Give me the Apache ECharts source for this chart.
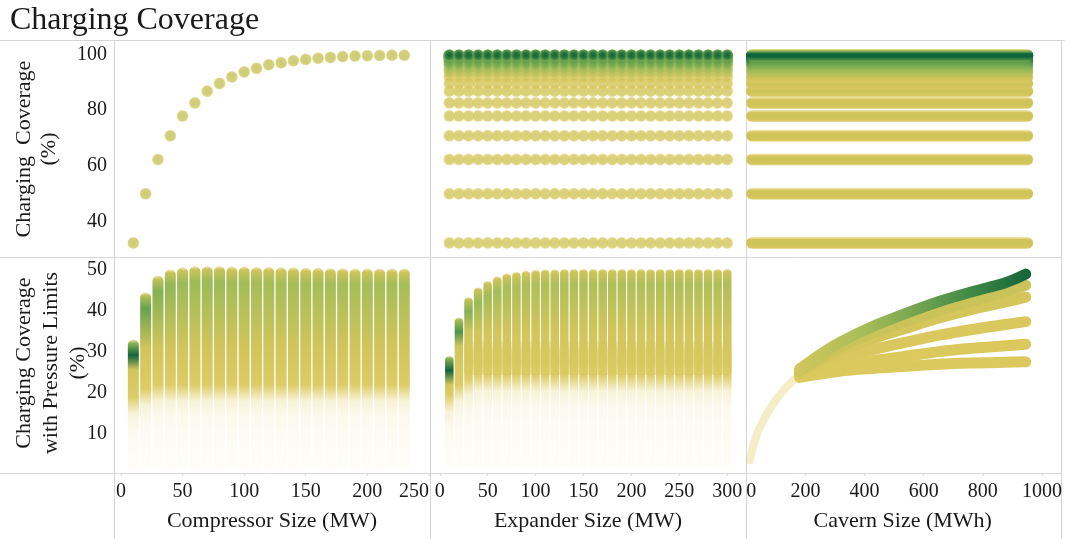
<!DOCTYPE html>
<html>
<head>
<meta charset="utf-8">
<script src="https://cdn.jsdelivr.net/npm/echarts@6/dist/echarts.min.js"></script>
<style>
html, body { margin: 0; padding: 0; background: #fff; }
#main { width: 1065px; height: 539px; }
</style>
</head>
<body>
<div id="main"></div>
<script>
// ---- data ----
// top row: charging coverage (%) for each compressor size (MW)
var compressorSizes = [10, 20, 30, 40, 50, 60, 70, 80, 90, 100, 110, 120, 130, 140, 150, 160, 170, 180, 190, 200, 210, 220, 230];
var coverage = [32.4, 50.0, 62.3, 70.8, 77.9, 82.6, 86.8, 89.6, 91.9, 93.7, 95.0, 96.3, 97.0, 97.7, 98.2, 98.6, 98.9, 99.2, 99.4, 99.5, 99.6, 99.7, 99.7];
var expanderSizes = [10, 20, 30, 40, 50, 60, 70, 80, 90, 100, 110, 120, 130, 140, 150, 160, 170, 180, 190, 200, 210, 220, 230, 240, 250, 260, 270, 280, 290, 300];
var cavernRange = [20, 945];

// bottom row: coverage with pressure limits, highest value / lowest dense value / peak density per column
var compTop = [31.7, 43.2, 47.3, 48.8, 49.3, 49.6, 49.6, 49.6, 49.5, 49.5, 49.4, 49.4, 49.3, 49.3, 49.2, 49.2, 49.1, 49.1, 49.0, 49.0, 49.0, 49.0, 49.0];
var compLow = [19.0, 21.0, 22.0, 22.0, 22.0, 22.0, 22.0, 22.0, 22.0, 22.0, 22.0, 22.0, 22.0, 22.0, 22.0, 22.0, 22.0, 22.0, 22.0, 22.0, 22.0, 22.0, 22.0];
var compPeak = [1.0, 0.72, 0.62, 0.58, 0.55, 0.55, 0.55, 0.55, 0.52, 0.52, 0.5, 0.5, 0.5, 0.5, 0.5, 0.5, 0.5, 0.5, 0.5, 0.5, 0.5, 0.5, 0.5];

var expTop = [28.0, 37.4, 42.3, 44.7, 46.3, 47.4, 48.1, 48.5, 48.8, 49.0, 49.1, 49.1, 49.2, 49.2, 49.2, 49.2, 49.2, 49.2, 49.2, 49.2, 49.2, 49.2, 49.2, 49.2, 49.2, 49.2, 49.2, 49.2, 49.2, 49.2];
var expLow = [19.5, 22.0, 23.5, 24.4, 24.4, 24.4, 24.4, 24.4, 24.4, 24.4, 24.4, 24.4, 24.4, 24.4, 24.4, 24.4, 24.4, 24.4, 24.4, 24.4, 24.4, 24.4, 24.4, 24.4, 24.4, 24.4, 24.4, 24.4, 24.4, 24.4];
var expPeak = [1.0, 0.8, 0.62, 0.56, 0.52, 0.5, 0.48, 0.46, 0.46, 0.45, 0.45, 0.45, 0.45, 0.45, 0.45, 0.45, 0.45, 0.45, 0.45, 0.45, 0.45, 0.45, 0.45, 0.45, 0.45, 0.45, 0.45, 0.45, 0.45, 0.45];
// dense horizontal band in the expander panel: [expander from, expander to, coverage low, coverage high]
var expBand = [30, 300, 24.4, 32.6];

// cavern size (MWh) vs coverage with pressure limits, one list per band
var cavLow = [[12, 3.6], [25, 7.5], [45, 11.5], [85, 16.7], [130, 21.0], [165, 23.5]];
var cavTopCurve = [[180, 25.8], [258, 29.8], [315, 32.3], [427, 36.2], [540, 39.4], [652, 42.3], [764, 44.7], [876, 46.9], [945, 49.0]];
var cavBand1 = [[180, 25.4], [315, 31.2], [427, 34.6], [540, 37.5], [652, 40.2], [764, 42.5], [876, 44.6], [945, 46.3]];
var cavBand2 = [[180, 25.0], [315, 30.2], [427, 33.2], [540, 35.8], [652, 38.3], [764, 40.4], [876, 42.2], [945, 43.4]];
var cavBandB = [[180, 24.6], [315, 28.8], [427, 30.6], [540, 32.4], [652, 34.1], [764, 35.5], [876, 36.7], [945, 37.4]];
var cavBandC = [[180, 24.2], [315, 27.0], [427, 27.9], [540, 29.0], [652, 30.1], [764, 30.9], [876, 31.5], [945, 31.9]];
var cavBandD = [[180, 23.8], [315, 25.3], [427, 26.0], [540, 26.5], [652, 27.0], [764, 27.3], [876, 27.5], [945, 27.6]];

var compTicks = [0, 50, 100, 150, 200, 250];
var expTicks = [0, 50, 100, 150, 200, 250, 300];
var cavTicks = [0, 200, 400, 600, 800, 1000];
var topTicks = [40, 60, 80, 100];
var botTicks = [10, 20, 30, 40, 50];

// ---- colour helpers ----
var rampStops = [[0, [226, 203, 96]], [0.3, [206, 196, 90]], [0.55, [156, 187, 87]], [0.78, [85, 153, 75]], [1, [17, 100, 58]]];
function ramp(t, a) {
	t = Math.max(0, Math.min(1, t));
	for (var i = 1; i < rampStops.length; i++) {
		if (t <= rampStops[i][0]) {
			var s0 = rampStops[i - 1], s1 = rampStops[i];
			var f = (t - s0[0]) / (s1[0] - s0[0]);
			var c = s0[1].map(function(v, k) { return Math.round(v + (s1[1][k] - v) * f); });
			return 'rgba(' + c.join(',') + ',' + (a == null ? 1 : a) + ')';
		}
	}
	return 'rgba(17,100,58,1)';
}
function dot(t) {
	var rim = t > 0.35 ? 0.8 : 0.4;
	return {
		type: 'radial', x: 0.5, y: 0.5, r: 0.5,
		colorStops: [
			{ offset: 0, color: ramp(t) },
			{ offset: 0.5, color: ramp(t * 0.92) },
			{ offset: 0.8, color: ramp(t * rim) },
			{ offset: 1, color: ramp(t * rim * 0.8, 0.45) }
		]
	};
}
// density of a coverage level in the top row (many points pile up near 100)
function levelDensity(v) {
	if (v < 88) return 0.3;
	return Math.max(0.3, Math.min(1, 0.3 + 0.1 * (v - 92.3)));
}

var FONT = 'Liberation Serif, Times New Roman, serif';
var TXT = '#1a1a1a';

// ---- grids ----
var gridBox = [
	{ left: 114, top: 41, width: 316, height: 216 },
	{ left: 430, top: 41, width: 316, height: 216 },
	{ left: 746, top: 41, width: 315, height: 216 },
	{ left: 114, top: 257, width: 316, height: 216 },
	{ left: 430, top: 257, width: 316, height: 216 },
	{ left: 746, top: 257, width: 315, height: 216 }
];
var xRange = [[-5.7, 250.9], [-10.2, 319.6], [-1, 1059]];
var xTicks = [compTicks, expTicks, cavTicks];
var xNames = ['Compressor Size (MW)', 'Expander Size (MW)', 'Cavern Size (MWh)'];

var xAxes = [], yAxes = [];
for (var g = 0; g < 6; g++) {
	var col = g % 3, bottom = g >= 3;
	xAxes.push({
		gridIndex: g, type: 'value', min: xRange[col][0], max: xRange[col][1],
		axisLine: { show: false }, splitLine: { show: false },
		axisTick: { show: bottom, customValues: xTicks[col], length: 3, lineStyle: { color: '#dcdcdc' } },
		axisLabel: {
			show: bottom, customValues: xTicks[col], margin: 9,
			fontFamily: FONT, fontSize: 20, color: TXT,
			formatter: function(v) { return String(v); },
			alignMinLabel: col === 2 ? 'left' : 'center',
			alignMaxLabel: col === 0 ? 'right' : 'center'
		},
		name: bottom ? xNames[col] : '',
		nameLocation: 'middle', nameGap: 37,
		nameTextStyle: { fontFamily: FONT, fontSize: 22, color: TXT }
	});
	yAxes.push({
		gridIndex: g, type: 'value',
		min: bottom ? 0.49 : 27.35, max: bottom ? 53.17 : 104.8,
		axisLine: { show: false }, splitLine: { show: false }, axisTick: { show: false },
		axisLabel: {
			show: col === 0, customValues: bottom ? botTicks : topTicks, margin: 7,
			fontFamily: FONT, fontSize: 20, color: TXT
		}
	});
}

// ---- series builders ----
function columnSeries(gi, xs, tops, lows, peaks, greenTo, width) {
	return {
		type: 'custom', xAxisIndex: gi, yAxisIndex: gi, clip: false,
		data: xs.map(function(x, i) { return [x, tops[i], lows[i], peaks[i]]; }),
		renderItem: function(params, api) {
			var x = api.value(0), top = api.value(1), low = api.value(2), pk = api.value(3);
			var r = width / 2;
			var pT = api.coord([x, top]);
			var pB = api.coord([x, 3]);
			var y0 = pT[1] - r, y1 = pB[1] + r, h = y1 - y0;
			function off(v) { return Math.min(1, Math.max(0, (api.coord([x, v])[1] - y0) / h)); }
			var gEnd = Math.max(Math.min(greenTo, top - 6), low + 1.5);
			var stops = [
				{ offset: 0, color: ramp(0, 0.5) },
				{ offset: off(top + 0.5), color: ramp(pk * 0.6) },
				{ offset: off(top - 2.5), color: ramp(pk) },
				{ offset: off(gEnd), color: ramp(0.25) },
				{ offset: off(low), color: ramp(0.1, 0.95) },
				{ offset: off(low - 4), color: ramp(0, 0.25) },
				{ offset: off(low - 8), color: ramp(0, 0.1) },
				{ offset: 1, color: ramp(0, 0.04) }
			];
			return {
				type: 'rect',
				shape: { x: pT[0] - r, y: y0, width: width, height: h, r: [r, r, 2, 2] },
				style: { fill: { type: 'linear', x: 0, y: 0, x2: 0, y2: 1, colorStops: stops } }
			};
		}
	};
}
function bandLine(data, color, w) {
	return {
		type: 'line', xAxisIndex: 5, yAxisIndex: 5, data: data, smooth: 0.35,
		symbol: 'none', silent: true,
		lineStyle: { color: color, width: w, cap: 'round', join: 'round' }
	};
}

// top-middle: every expander size at every compressor coverage level
var expDots = [];
for (var li = 0; li < coverage.length; li++) {
	for (var ei = 0; ei < expanderSizes.length; ei++) {
		expDots.push({ value: [expanderSizes[ei], coverage[li]], itemStyle: { color: dot(levelDensity(coverage[li])) } });
	}
}

var series = [
	{
		type: 'scatter', xAxisIndex: 0, yAxisIndex: 0, symbolSize: 12,
		data: compressorSizes.map(function(x, i) { return { value: [x, coverage[i]], itemStyle: { color: dot(0.38) } }; })
	},
	{ type: 'scatter', xAxisIndex: 1, yAxisIndex: 1, symbolSize: 12, data: expDots },
	{
		type: 'custom', xAxisIndex: 2, yAxisIndex: 2, clip: false,
		data: coverage.map(function(v) { return [v]; }),
		renderItem: function(params, api) {
			var v = api.value(0), t = levelDensity(v);
			var p0 = api.coord([cavernRange[0], v]), p1 = api.coord([cavernRange[1], v]);
			var r = 6;
			var low = t > 0.35 ? 0.85 : 0.5;
			return {
				type: 'rect',
				shape: { x: p0[0] - r, y: p0[1] - r, width: p1[0] - p0[0] + 2 * r, height: 2 * r, r: r },
				style: {
					fill: {
						type: 'linear', x: 0, y: 0, x2: 0, y2: 1,
						colorStops: [
							{ offset: 0, color: ramp(0, 0.4) },
							{ offset: 0.2, color: ramp(t * 0.7) },
							{ offset: 0.38, color: ramp(t) },
							{ offset: 0.62, color: ramp(t) },
							{ offset: 0.88, color: ramp(t * low) },
							{ offset: 1, color: ramp(t * low * 0.8, 0.5) }
						]
					}
				}
			};
		}
	},
	columnSeries(3, compressorSizes, compTop, compLow, compPeak, 31, 11),
	{
		type: 'custom', xAxisIndex: 4, yAxisIndex: 4, clip: false,
		data: [expBand],
		renderItem: function(params, api) {
			var a = api.coord([api.value(0), api.value(3)]), b = api.coord([api.value(1), api.value(2)]);
			var r = 4.5;
			return {
				type: 'rect',
				shape: { x: a[0] - r, y: a[1], width: b[0] - a[0] + 2 * r, height: b[1] - a[1], r: 3 },
				style: {
					fill: {
						type: 'linear', x: 0, y: 0, x2: 0, y2: 1,
						colorStops: [
							{ offset: 0, color: ramp(0.2, 0.15) },
							{ offset: 0.25, color: ramp(0.15, 0.6) },
							{ offset: 0.6, color: ramp(0.1, 0.75) },
							{ offset: 1, color: ramp(0.05, 0.5) }
						]
					}
				}
			};
		}
	},
	columnSeries(4, expanderSizes, expTop, expLow, expPeak, 35, 8.5),
	bandLine(cavLow, ramp(0, 0.35), 8),
	bandLine(cavBandD, ramp(0.1), 11),
	bandLine(cavBandC, ramp(0.1), 11),
	bandLine(cavBandB, ramp(0.12), 11),
	bandLine(cavBand2, ramp(0.2), 11),
	bandLine(cavBand1, ramp(0.32), 11),
	bandLine(cavTopCurve, {
		type: 'linear', x: 0, y: 0, x2: 1, y2: 0,
		colorStops: [
			{ offset: 0, color: ramp(0.2) },
			{ offset: 0.3, color: ramp(0.5) },
			{ offset: 0.7, color: ramp(0.82) },
			{ offset: 1, color: ramp(1) }
		]
	}, 11)
];

// ---- frame lines and row headers ----
var SEP = '#d6d6d6';
function hline(y, x1, x2) { return { type: 'line', silent: true, shape: { x1: x1, y1: y, x2: x2, y2: y }, style: { stroke: SEP, lineWidth: 1 } }; }
function vline(x, y1, y2) { return { type: 'line', silent: true, shape: { x1: x, y1: y1, x2: x, y2: y2 }, style: { stroke: SEP, lineWidth: 1 } }; }

var graphic = [
	hline(40.5, 0, 1065), hline(257.5, 0, 1061), hline(473.5, 0, 1061),
	vline(114.5, 41, 539), vline(430.5, 41, 539), vline(746.5, 41, 539), vline(1061.5, 41, 539),
	{
		type: 'text', x: 37, y: 149, rotation: Math.PI / 2,
		style: { text: 'Charging  Coverage\n(%)', font: '22px ' + FONT, fill: TXT, align: 'center', verticalAlign: 'middle', lineHeight: 25 }
	},
	{
		type: 'text', x: 51, y: 363, rotation: Math.PI / 2,
		style: { text: 'Charging Coverage\nwith Pressure Limits\n(%)', font: '22px ' + FONT, fill: TXT, align: 'center', verticalAlign: 'middle', lineHeight: 27 }
	}
];

var myChart = echarts.init(document.getElementById('main'));
myChart.setOption({
	animation: false,
	backgroundColor: '#fff',
	title: {
		text: 'Charging Coverage', left: 5, top: 0,
		textStyle: { fontFamily: FONT, fontSize: 32, fontWeight: 'normal', color: TXT }
	},
	grid: gridBox,
	xAxis: xAxes,
	yAxis: yAxes,
	graphic: graphic,
	series: series
});
</script>
</body>
</html>
